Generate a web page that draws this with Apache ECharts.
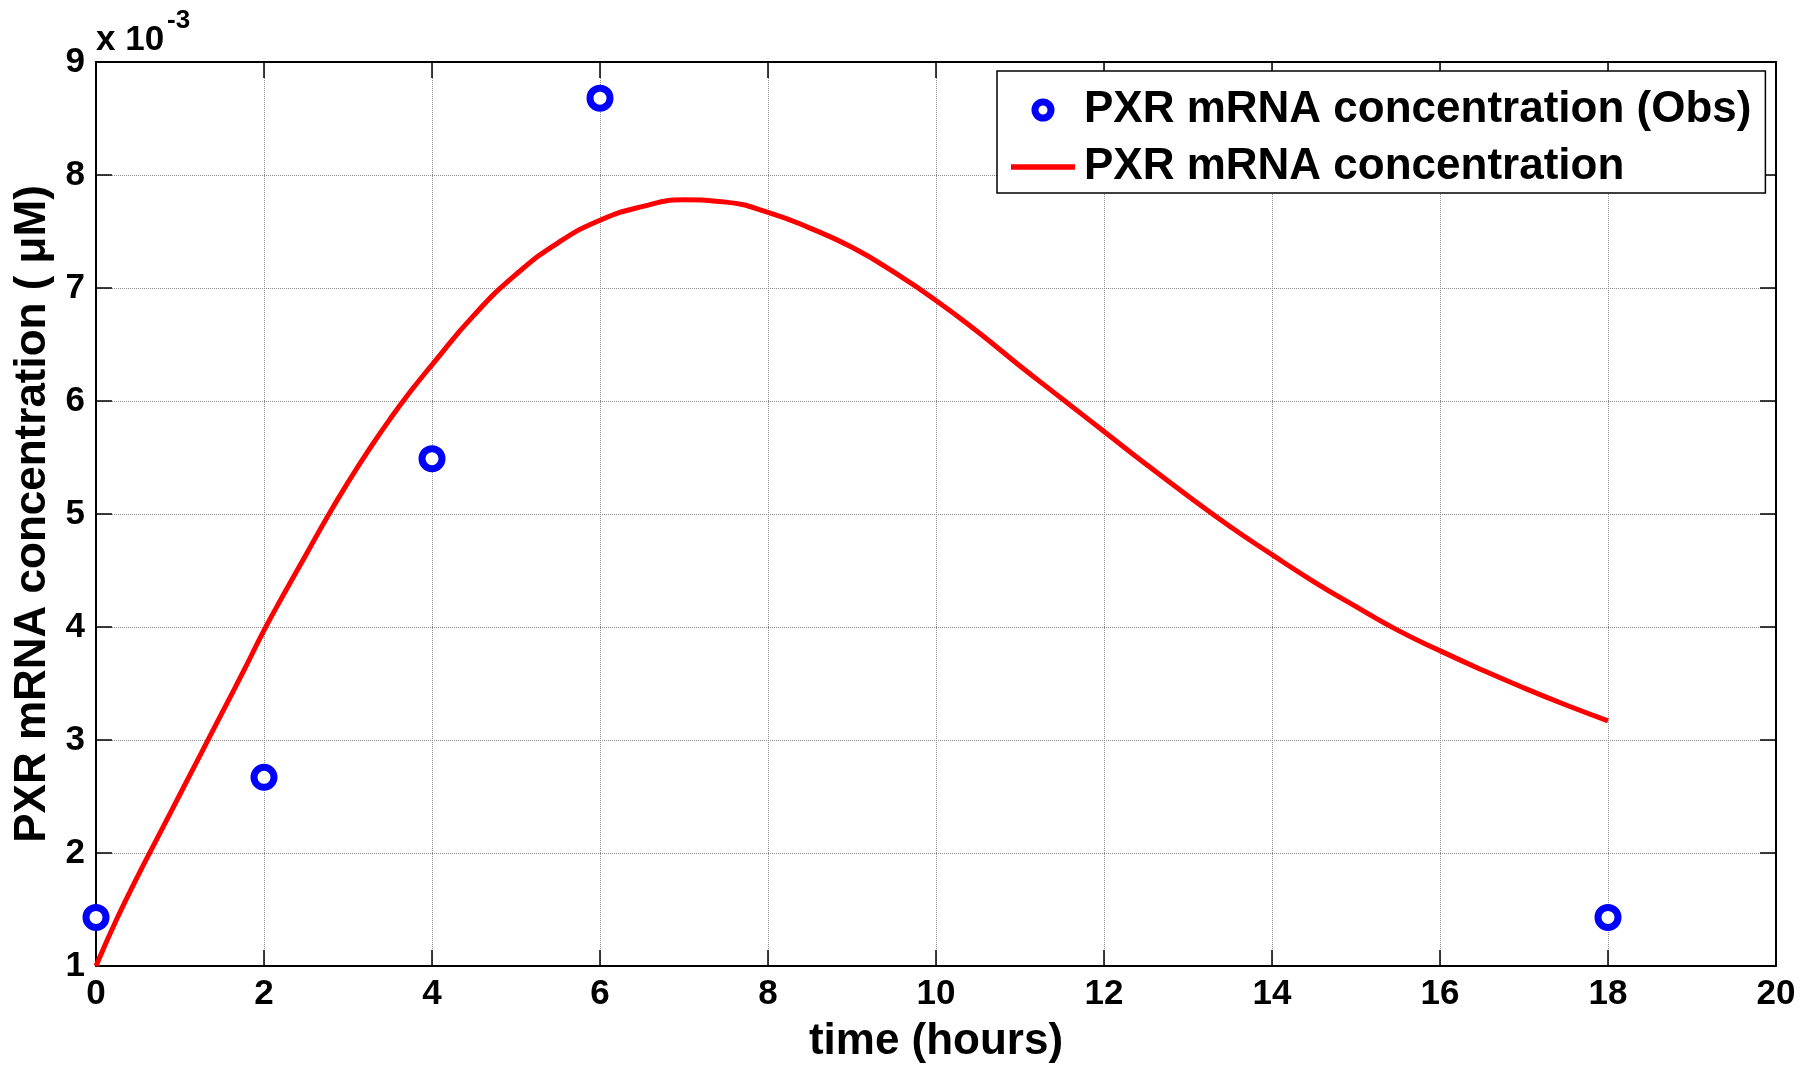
<!DOCTYPE html>
<html>
<head>
<meta charset="utf-8">
<title>PXR mRNA concentration</title>
<script src="https://cdn.jsdelivr.net/npm/echarts@6/dist/echarts.min.js"></script>
<style>
  html, body { margin: 0; padding: 0; background: #fff; }
  #chart { width: 1806px; height: 1066px; }
</style>
</head>
<body>
<div id="chart"></div>
<script>
// Concentrations are in units of 10^-3 µM (see the axis multiplier).
const obsTime = [0, 2, 4, 6, 18];
const obsConc = [1.43, 2.67, 5.49, 8.68, 1.43];

const modelTime = [0, 0.25, 0.5, 0.75, 1, 1.25, 1.5, 1.75, 2, 2.25, 2.5, 2.75, 3, 3.25, 3.5, 3.75,
  4, 4.5, 5, 5.5, 6, 6.5, 7, 7.5, 8, 8.5, 9, 9.5, 10, 10.5, 11, 11.5, 12, 12.5, 13, 13.5,
  14, 14.5, 15, 15.5, 16, 16.5, 17, 17.5, 18];
const modelConc = [1.00, 1.42, 1.80, 2.16, 2.52, 2.88, 3.24, 3.60, 3.97, 4.31, 4.64, 4.97, 5.28, 5.57, 5.84, 6.09,
  6.32, 6.76, 7.12, 7.40, 7.60, 7.72, 7.78, 7.76, 7.67, 7.53, 7.36, 7.14, 6.89, 6.61, 6.31, 6.02, 5.73, 5.44, 5.16, 4.89,
  4.64, 4.40, 4.18, 3.97, 3.79, 3.62, 3.46, 3.31, 3.17];

const xTicks = { min: 0, max: 20, interval: 2 };
const yTicks = { min: 1, max: 9, interval: 1 };

const obsName = 'PXR mRNA concentration (Obs)';
const modelName = 'PXR mRNA concentration';

const FONT = "'Liberation Sans', Arial, Helvetica, sans-serif";

const chart = echarts.init(document.getElementById('chart'), null, { renderer: 'canvas' });

const frameLine = { show: true, onZero: false, lineStyle: { color: '#000', width: 2 } };
const innerTick = { show: true, inside: true, length: 16, lineStyle: { color: '#000', width: 1.5 } };
const gridLine = { show: true, lineStyle: { color: '#8a8a8a', width: 1, type: [1, 1] } };

chart.setOption({
  animation: false,
  backgroundColor: '#fff',
  grid: { left: 96, right: 30, top: 62, bottom: 100, containLabel: false, outerBoundsMode: 'none' },
  graphic: [
    {
      type: 'text', left: 96, top: 23,
      style: { text: 'x 10', font: "bold 35px " + FONT, fill: '#000' }
    },
    {
      type: 'text', left: 167, top: 8,
      style: { text: '-3', font: "bold 26px " + FONT, fill: '#000' }
    }
  ],
  legend: {
    orient: 'vertical',
    left: 997,
    top: 71,
    padding: [17, 14, 4, 14],
    itemGap: 13,
    itemWidth: 64,
    itemHeight: 16,
    backgroundColor: '#fff',
    borderColor: '#000',
    borderWidth: 1.5,
    borderRadius: 0,
    textStyle: { fontFamily: FONT, fontWeight: 'bold', fontSize: 44, color: '#000', padding: [0, 0, 0, 4] },
    data: [
      { name: obsName, icon: 'circle', itemStyle: { color: '#fff', borderColor: '#0000ff', borderWidth: 7 } },
      { name: modelName, icon: 'path://M0,0H60V5H0Z', itemStyle: { color: '#ff0000', borderWidth: 0 } }
    ]
  },
  xAxis: [
    {
      type: 'value', position: 'bottom',
      min: xTicks.min, max: xTicks.max, interval: xTicks.interval,
      name: 'time (hours)', nameLocation: 'middle', nameGap: 54,
      nameTextStyle: { fontFamily: FONT, fontWeight: 'bold', fontSize: 44, color: '#000' },
      axisLine: frameLine, axisTick: innerTick,
      axisLabel: { margin: 11, fontFamily: FONT, fontWeight: 'bold', fontSize: 35, color: '#000' },
      splitLine: gridLine
    },
    {
      type: 'value', position: 'top',
      min: xTicks.min, max: xTicks.max, interval: xTicks.interval,
      axisLine: frameLine, axisTick: innerTick,
      axisLabel: { show: false }, splitLine: { show: false }
    }
  ],
  yAxis: [
    {
      type: 'value', position: 'left',
      min: yTicks.min, max: yTicks.max, interval: yTicks.interval,
      name: 'PXR mRNA concentration ( μM)', nameLocation: 'middle', nameGap: 37,
      nameTextStyle: { fontFamily: FONT, fontWeight: 'bold', fontSize: 44, color: '#000' },
      axisLine: frameLine, axisTick: innerTick,
      axisLabel: { margin: 11, fontFamily: FONT, fontWeight: 'bold', fontSize: 35, color: '#000' },
      splitLine: gridLine
    },
    {
      type: 'value', position: 'right',
      min: yTicks.min, max: yTicks.max, interval: yTicks.interval,
      axisLine: frameLine, axisTick: innerTick,
      axisLabel: { show: false }, splitLine: { show: false }
    }
  ],
  series: [
    {
      name: modelName,
      type: 'line',
      xAxisIndex: 0, yAxisIndex: 0,
      data: modelTime.map((t, i) => [t, modelConc[i]]),
      smooth: 0.5,
      showSymbol: false,
      symbol: 'none',
      lineStyle: { color: '#ff0000', width: 5 },
      itemStyle: { color: '#ff0000' },
      z: 2
    },
    {
      name: obsName,
      type: 'scatter',
      xAxisIndex: 0, yAxisIndex: 0,
      data: obsTime.map((t, i) => [t, obsConc[i]]),
      symbol: 'circle',
      symbolSize: 20,
      itemStyle: { color: '#fff', borderColor: '#0000ff', borderWidth: 7, opacity: 1 },
      z: 3
    }
  ]
});
</script>
</body>
</html>
